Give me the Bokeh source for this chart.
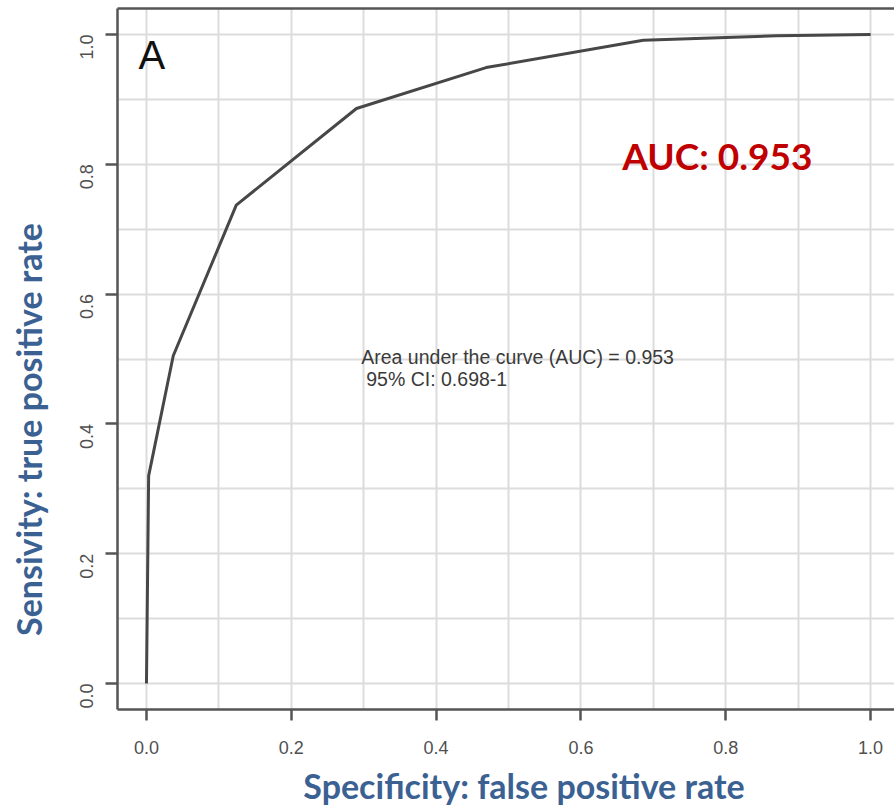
import math
from bokeh.plotting import figure
from bokeh.layouts import row, column
from bokeh.models import Range1d, FixedTicker, LinearAxis, Label
from bokeh.embed import file_html
from bokeh.resources import INLINE

# ROC curve points (false positive rate, true positive rate)
fpr = [0.0, 0.0, 0.003, 0.037, 0.124, 0.290, 0.469, 0.686, 0.870, 1.0]
tpr = [0.0, 0.0, 0.320, 0.505, 0.737, 0.886, 0.949, 0.991, 0.998, 1.0]

tick_values = [0.0, 0.2, 0.4, 0.6, 0.8, 1.0]
tick_labels = ["0.0", "0.2", "0.4", "0.6", "0.8", "1.0"]
grid_values = [0.0, 0.1, 0.2, 0.3, 0.4, 0.5, 0.6, 0.7, 0.8, 0.9, 1.0]

x_title = "Specificity: false positive rate"
y_title = "Sensivity: true positive rate"
auc_big = "AUC: 0.953"
auc_line1 = "Area under the curve (AUC) = 0.953"
auc_line2 = "95% CI: 0.698-1"
panel_letter = "A"

FRAME = "#555555"
BLUE = "#3A6192"

LEFT_W = 64
BOTTOM_H = 45
MAIN_W = 894 - LEFT_W
MAIN_H = 807 - BOTTOM_H


def blank(width, height, x_range, y_range):
    f = figure(width=width, height=height, output_backend="svg", toolbar_location=None,
               x_axis_type=None, y_axis_type=None, x_range=x_range, y_range=y_range,
               min_border=0, min_border_left=0, min_border_right=0,
               min_border_top=0, min_border_bottom=0)
    f.grid.visible = False
    f.outline_line_color = None
    f.background_fill_color = "white"
    f.border_fill_color = "white"
    return f


# --- main chart ---
p = figure(width=MAIN_W, height=MAIN_H, output_backend="svg", toolbar_location=None,
           x_range=Range1d(-0.04, 1.033), y_range=Range1d(-0.04, 1.04),
           min_border_left=117 - LEFT_W, min_border_right=0, min_border_top=8,
           min_border_bottom=MAIN_H - 709)
p.outline_line_color = None
p.background_fill_color = "white"
p.border_fill_color = "white"

for g in (p.xgrid, p.ygrid):
    g.ticker = FixedTicker(ticks=grid_values)
    g.grid_line_color = "#dcdcdc"
    g.grid_line_width = 2

for ax in (p.xaxis[0], p.yaxis[0]):
    ax.ticker = FixedTicker(ticks=tick_values)
    ax.major_label_overrides = {v: s for v, s in zip(tick_values, tick_labels)}
    ax.axis_line_color = FRAME
    ax.axis_line_width = 2.5
    ax.major_tick_line_color = FRAME
    ax.major_tick_line_width = 2.5
    ax.minor_tick_line_color = None
    ax.major_tick_in = 0
    ax.major_label_text_font = "Liberation Sans"
    ax.major_label_text_font_size = "18px"
    ax.major_label_text_color = "#505050"

p.xaxis[0].major_tick_out = 11
p.xaxis[0].major_label_standoff = 20
p.yaxis[0].major_tick_out = 12
p.yaxis[0].major_label_standoff = 19
p.yaxis[0].major_label_orientation = math.pi / 2

top = LinearAxis(ticker=FixedTicker(ticks=[]), axis_line_color=FRAME, axis_line_width=2.5,
                 major_tick_line_color=None, minor_tick_line_color=None,
                 major_label_text_font_size="0px")
p.add_layout(top, "above")

p.line(fpr, tpr, line_color="#474747", line_width=3)

p.add_layout(Label(x=-0.011, y=0.968, text=panel_letter, text_font="Liberation Sans",
                   text_font_size="40px", text_color="#111111", text_baseline="alphabetic"))
p.add_layout(Label(x=0.657, y=0.8135, text=auc_big, text_font="Lato", text_font_style="bold",
                   text_font_size="37px", text_color="#C00000", text_baseline="alphabetic"))
p.add_layout(Label(x=0.2966, y=0.503, text=auc_line1, text_font="Liberation Sans",
                   text_font_size="19.5px", text_color="#3a3a3a", text_baseline="alphabetic"))
p.add_layout(Label(x=0.3035, y=0.469, text=auc_line2, text_font="Liberation Sans",
                   text_font_size="19.5px", text_color="#3a3a3a", text_baseline="alphabetic"))

# --- axis titles (placed beside the chart, as in the original slide) ---
left = blank(LEFT_W, 807, Range1d(0, LEFT_W), Range1d(0, 807))
left.add_layout(Label(x=28, y=378, text=y_title, angle=math.pi / 2,
                      text_font="Lato", text_font_style="bold", text_font_size="34px",
                      text_color=BLUE, text_align="center", text_baseline="alphabetic"))

bottom = blank(MAIN_W, BOTTOM_H, p.x_range, Range1d(0, BOTTOM_H))
bottom.add_layout(Label(x=0.2166, y=22, text=x_title,
                        text_font="Lato", text_font_style="bold", text_font_size="34px",
                        text_color=BLUE, text_align="left", text_baseline="alphabetic"))

layout = row(left, column(p, bottom, spacing=0), spacing=0)

open("out.html", "w").write(file_html(layout, INLINE))
